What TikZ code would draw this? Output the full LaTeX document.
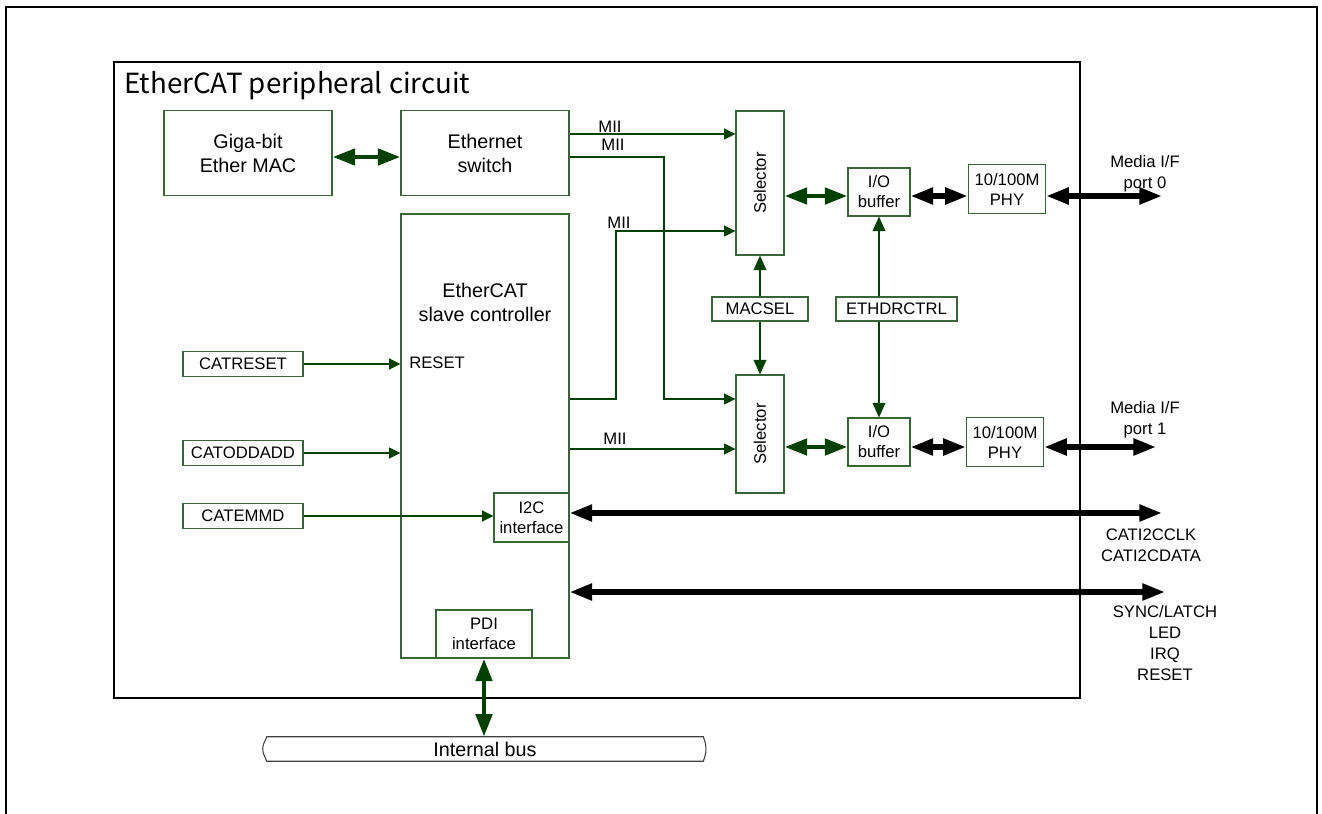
\documentclass[tikz,border=0pt]{standalone}
\usepackage{fontspec}
\setmainfont{Liberation Sans}
\newfontfamily\titlefont{Noto Sans CJK JP}
\usepackage{graphicx}
\usetikzlibrary{arrows.meta,positioning,calc}
\definecolor{lnkgreen}{RGB}{0,64,0}
\definecolor{boxgreen}{RGB}{56,100,56}

\begin{document}
\begin{tikzpicture}[x=0.75pt,y=-0.75pt,
  block/.style={draw=boxgreen, line width=0.8pt, fill=white, align=center, inner sep=0pt, font=\fontsize{14.8}{18}\selectfont},
  smallblock/.style={draw=boxgreen, line width=0.8pt, fill=white, align=center, inner sep=0pt, font=\fontsize{12.5}{15}\selectfont},
  bigtxt/.style={align=center, inner sep=0pt, font=\fontsize{14.8}{18}\selectfont},
  lbl/.style={align=center, inner sep=0pt, font=\fontsize{12.5}{15.75}\selectfont},
  sig/.style={lnkgreen, line width=1.4pt, -{Triangle[length=8.5pt,width=8pt]}},
  ctl/.style={lnkgreen, line width=1.4pt, -{Triangle[length=11pt,width=9.5pt]}},
  gbus/.style={lnkgreen, line width=3.6pt, {Triangle[length=17pt,width=12pt]}-{Triangle[length=17pt,width=12pt]}},
  kbus/.style={black, line width=4pt, {Triangle[length=17pt,width=12pt]}-{Triangle[length=17pt,width=12pt]}}
]
\useasboundingbox (0,0) rectangle (1322,814);
\draw[line width=2.2pt] (6,830) -- (6,7) -- (1317,7) -- (1317,830);
\draw[line width=1.9pt] (114,62) rectangle (1080,698);
\node[anchor=west, inner sep=0pt, font=\titlefont\fontsize{20.8}{23}\selectfont] (ttl) at (124,86) {EtherCAT peripheral circuit};

\node[block, minimum width=126pt, minimum height=63.75pt] (mac) at (248,153) {Giga-bit\\Ether MAC};
\node[block, minimum width=126pt, minimum height=63.75pt] (sw) at (485,153) {Ethernet\\switch};
\node[block, minimum width=126pt, minimum height=333pt] (esc) at (485,436) {};
\node[bigtxt] (esctxt) at (485,302) {EtherCAT\\slave controller};
\node[lbl, anchor=west] (rsttxt) at (409,363) {RESET};
\node[smallblock, minimum width=90pt, minimum height=18.75pt] (catrst) at (243,364) {CATRESET};
\node[smallblock, minimum width=90pt, minimum height=18.75pt] (catodd) at (243,453) {CATODDADD};
\node[smallblock, minimum width=90pt, minimum height=18.75pt] (catemmd) at (243,516) {CATEMMD};
\node[smallblock, minimum width=56.25pt, minimum height=36.75pt] (i2c) at (531.5,517.5) {I2C\\interface};
\node[smallblock, minimum width=72pt, minimum height=36pt] (pdi) at (484,634) {PDI\\interface};

\node[smallblock, minimum width=36pt, minimum height=108pt] (sel0) at (760,183) {\rotatebox{90}{Selector}};
\node[smallblock, minimum width=36pt, minimum height=88.5pt] (sel1) at (760,434) {\rotatebox{90}{Selector}};
\node[smallblock, minimum width=46.5pt, minimum height=36pt] (io0) at (879,192) {I/O\\buffer};
\node[smallblock, minimum width=46.5pt, minimum height=36pt] (io1) at (879,442) {I/O\\buffer};
\node[smallblock, minimum width=58pt, minimum height=36.75pt] (phy0) at (1007,189) {10/100M\\PHY};
\node[smallblock, minimum width=58pt, minimum height=36.75pt] (phy1) at (1005,442) {10/100M\\PHY};
\node[smallblock, minimum width=72pt, minimum height=18pt] (macsel) at (760,309) {MACSEL};
\node[smallblock, minimum width=90.75pt, minimum height=18pt] (ethdr) at (896.5,309) {ETHDRCTRL};

\node[lbl] (med0) at (1145,174) {Media I/F\\port 0};
\node[lbl] (med1) at (1145,420) {Media I/F\\port 1};
\node[lbl] (i2ctxt) at (1151,545) {CATI2CCLK\\CATI2CDATA};
\node[lbl] (synctxt) at (1165,643) {SYNC/LATCH\\LED\\IRQ\\RESET};

\node[bigtxt, minimum width=327pt, minimum height=18pt] (bus) at (485,749) {Internal bus};
\draw[black!75, line width=0.8pt] (bus.north west) to[out=-110,in=90] ([xshift=-3pt]bus.west) to[out=-90,in=110] (bus.south west)
  -- (bus.south east) to[out=70,in=-90] ([xshift=2pt]bus.east) to[out=90,in=-70] (bus.north east) -- cycle;

\coordinate (row0) at (800,196);
\coordinate (row1) at (800,447);
\coordinate (out0) at (1162,196);
\coordinate (out1) at (1156,447);
\coordinate (outi) at (1162,513);
\coordinate (outs) at (1165,592);
\coordinate (m0) at (600,134);
\coordinate (m1a) at (664,157);
\coordinate (m1b) at (664,399);
\coordinate (m2a) at (616,399);
\coordinate (m2b) at (616,231);
\coordinate (m3) at (600,449);

\draw[gbus] ([yshift=-3pt]mac.east) -- ([yshift=-3pt]sw.west);
\draw[sig] (sw.east |- m0) -- (sel0.west |- m0);
\draw[sig] (sw.east |- m1a) -- (m1a) -- (m1b) -- (sel1.west |- m1b);
\draw[sig] (esc.east |- m2a) -- (m2a) -- (m2b) -- (sel0.west |- m2b);
\draw[sig] (esc.east |- m3) -- (sel1.west |- m3);
\node[lbl] (mii0) at (610,127) {MII};
\node[lbl] (mii1) at (613,145) {MII};
\node[lbl] (mii2) at (619,223) {MII};
\node[lbl] (mii3) at (615,439) {MII};

\draw[sig] (catrst) -- (esc.west |- catrst);
\draw[sig] (catodd) -- (esc.west |- catodd);
\draw[sig] (catemmd) -- (i2c.west |- catemmd);

\draw[ctl] (macsel) -- (sel0.south);
\draw[ctl] (macsel) -- (sel1.north);
\draw[ctl] (ethdr.north -| io0.south) -- (io0.south);
\draw[ctl] (ethdr.south -| io1.north) -- (io1.north);

\draw[gbus] (sel0.east |- row0) -- (io0.west |- row0);
\draw[kbus] (io0.east |- row0) -- (phy0.west |- row0);
\draw[kbus] (phy0.east |- out0) -- (out0);
\draw[gbus] (sel1.east |- row1) -- (io1.west |- row1);
\draw[kbus] (io1.east |- row1) -- (phy1.west |- row1);
\draw[kbus] (phy1.east |- out1) -- (out1);
\draw[kbus] (i2c.east |- outi) -- (outi);
\draw[kbus] (esc.east |- outs) -- (outs);
\draw[gbus] (pdi.south) -- (pdi.south |- bus.north);
\end{tikzpicture}
\end{document}
